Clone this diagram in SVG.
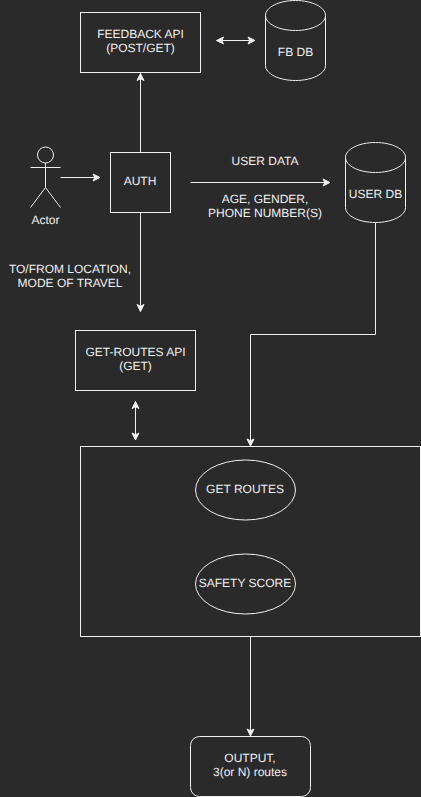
<svg xmlns="http://www.w3.org/2000/svg" width="421" height="797" viewBox="0 0 421 797">
<style>
.s{fill:none;stroke:#f0f0f0;stroke-width:1}
.t{font-family:"Liberation Sans",Arial,sans-serif;font-size:12px;fill:#f0f0f0;text-anchor:middle;text-rendering:geometricPrecision}
.h{fill:#f0f0f0;stroke:#f0f0f0;stroke-width:1}
</style>
<defs>
<marker id="a" markerUnits="userSpaceOnUse" markerWidth="12" markerHeight="10" refX="7" refY="4.500" orient="auto-start-reverse" overflow="visible"><path class="h" d="M0 1L7 4.500L0 8L1.750 4.500Z"/></marker>
</defs>
<rect width="421" height="797" fill="#2a2a2a"/>
<g id="connectors">
<path class="s" d="M60.500 177.500H100" marker-end="url(#a)"/>
<path class="s" d="M140.500 152.500V73.500" marker-end="url(#a)"/>
<path class="s" d="M140.500 212.500V311.500" marker-end="url(#a)"/>
<path class="s" d="M190.500 182.500H330" marker-end="url(#a)"/>
<path class="s" d="M216.500 40.500H255" marker-start="url(#a)" marker-end="url(#a)"/>
<path class="s" d="M135.500 401.500V440" marker-start="url(#a)" marker-end="url(#a)"/>
<path class="s" d="M375.500 222.500V334.500H250.500V446" marker-end="url(#a)"/>
<path class="s" d="M250.500 636.500V736" marker-end="url(#a)"/>
</g>
<g id="feedback-api"><rect class="s" x="80.500" y="12.500" width="120" height="60"/><text class="t" x="140.500" y="38">FEEDBACK API</text><text class="t" x="140.500" y="52">(POST/GET)</text></g>
<g id="fb-db"><path class="s" d="M265.500 15.500C265.500 7.200 278.900 .5 295.500 .5C312.100 .5 325.500 7.200 325.500 15.500V65.500C325.500 73.800 312.100 80.500 295.500 80.500C278.900 80.500 265.500 73.800 265.500 65.500ZM265.500 15.500C265.500 23.800 278.900 30.500 295.500 30.500C312.100 30.500 325.500 23.800 325.500 15.500"/><text class="t" x="295.500" y="56">FB DB</text></g>
<g id="actor"><circle class="s" cx="45.500" cy="155" r="8"/><path class="s" d="M45.500 163V187.500M30.500 167.500H60.500M45.500 187.500L30.500 207.500M45.500 187.500L60.500 207.500"/><text class="t" x="45.500" y="224">Actor</text></g>
<g id="auth"><rect class="s" x="110.500" y="152.500" width="60" height="60"/><text class="t" x="140" y="185">AUTH</text></g>
<g id="user-data-label"><text class="t" x="265" y="165">USER DATA</text><text class="t" x="265" y="203">AGE, GENDER,</text><text class="t" x="265" y="217">PHONE NUMBER(S)</text></g>
<g id="user-db"><path class="s" d="M345.500 157.500C345.500 149.200 358.900 142.500 375.500 142.500C392.100 142.500 405.500 149.200 405.500 157.500V207.500C405.500 215.800 392.100 222.500 375.500 222.500C358.900 222.500 345.500 215.800 345.500 207.500ZM345.500 157.500C345.500 165.800 358.900 172.500 375.500 172.500C392.100 172.500 405.500 165.800 405.500 157.500"/><text class="t" x="375.500" y="198">USER DB</text></g>
<g id="location-label"><text class="t" x="70" y="273">TO/FROM LOCATION,</text><text class="t" x="70" y="287">MODE OF TRAVEL</text></g>
<g id="get-routes-api"><rect class="s" x="75.500" y="330.500" width="120" height="60"/><text class="t" x="135.500" y="356">GET-ROUTES API</text><text class="t" x="135.500" y="370">(GET)</text></g>
<g id="processing"><rect class="s" x="80.500" y="446.500" width="340" height="190"/></g>
<g id="get-routes"><ellipse class="s" cx="245.500" cy="490" rx="50" ry="30"/><text class="t" x="245" y="493">GET ROUTES</text></g>
<g id="safety-score"><ellipse class="s" cx="245.500" cy="584" rx="50" ry="30"/><text class="t" x="245" y="587">SAFETY SCORE</text></g>
<g id="output"><rect class="s" x="190.500" y="736.500" width="120" height="60" rx="9" ry="9"/><text class="t" x="250" y="762">OUTPUT,</text><text class="t" x="250" y="776">3(or N) routes</text></g>
</svg>
